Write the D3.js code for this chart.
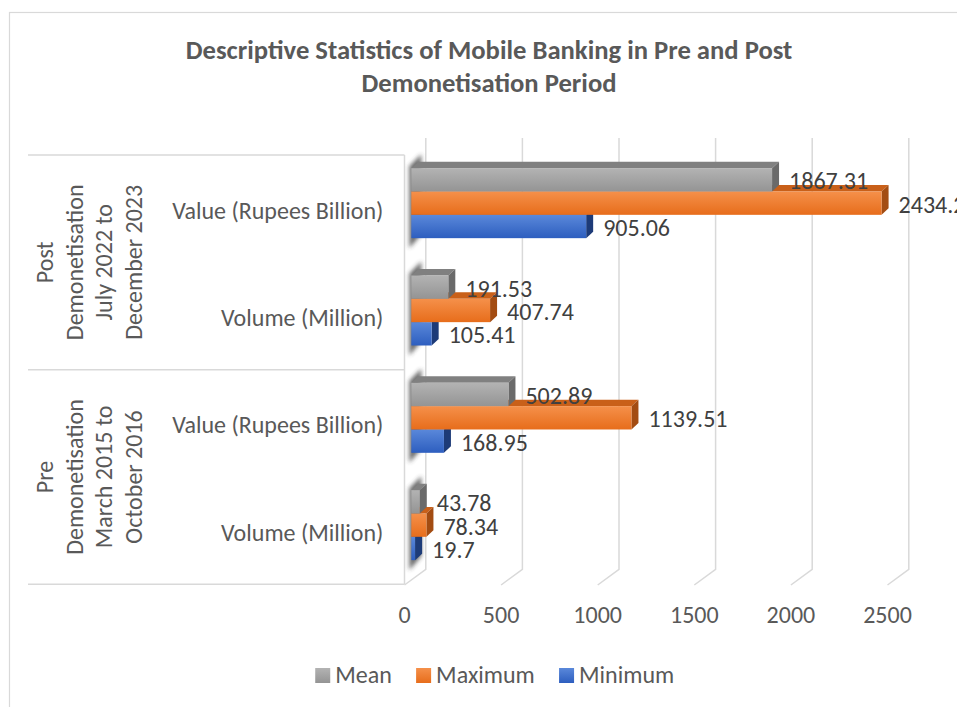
<!DOCTYPE html>
<html>
<head>
<meta charset="utf-8">
<script src="https://cdn.jsdelivr.net/npm/d3@7"></script>
<style>
  body { margin: 0; background: #fff; }
  text { font-family: Carlito, Calibri, Lato, sans-serif; fill: #595959; }
</style>
</head>
<body>
<div class="container"></div>
<script>
/* globals d3 */

// data
var categories = ['Post|Value (Rupees Billion)', 'Post|Volume (Million)', 'Pre|Value (Rupees Billion)', 'Pre|Volume (Million)']
var catLabels = ['Value (Rupees Billion)', 'Volume (Million)', 'Value (Rupees Billion)', 'Volume (Million)']
var groups = [
  { name: 'Post', lines: ['Post', 'Demonetisation', 'July 2022 to', 'December 2023'], from: 0, to: 1 },
  { name: 'Pre', lines: ['Pre', 'Demonetisation', 'March 2015 to', 'October 2016'], from: 2, to: 3 }
]
var seriesNames = ['Mean', 'Maximum', 'Minimum']
var meanValues = [1867.31, 191.53, 502.89, 43.78]
var maxValues = [2434.2, 407.74, 1139.51, 78.34]
var minValues = [905.06, 105.41, 168.95, 19.7]
var xTicks = [0, 500, 1000, 1500, 2000, 2500]

var colors = {
  Mean: { light: '#b3b3b3', dark: '#949494', top: '#808080', side: '#6a6a6a' },
  Maximum: { light: '#f5904a', dark: '#e76d1b', top: '#c96019', side: '#a34c12' },
  Minimum: { light: '#5a88da', dark: '#2d5ebf', top: '#2a4c8e', side: '#1d3b78' }
}

var width = 957
var height = 707

// oblique 3d geometry of the plot
var frontX = 404.5 // front edge of the floor at value 0
var wallDepth = [21.3, -15.7] // front -> back wall offset
var barX = 411.3 // front face of the bars at value 0
var barDepth = [7, -6.5]
var wallTop = 138
var wallBottom = 569.3

var svg = d3.select('.container')
            .append('svg')
            .attr('width', width)
            .attr('height', height)

var defs = svg.append('defs')
seriesNames.forEach(function (s) {
  var g = defs.append('linearGradient')
              .attr('id', 'grad-' + s)
              .attr('x1', 0).attr('y1', 0).attr('x2', 0).attr('y2', 1)
  g.append('stop').attr('offset', '0%').attr('stop-color', colors[s].light)
  g.append('stop').attr('offset', '100%').attr('stop-color', colors[s].dark)
})
defs.append('filter')
    .attr('id', 'blur')
    .attr('x', '-50%').attr('y', '-50%').attr('width', '200%').attr('height', '200%')
    .append('feGaussianBlur')
    .attr('stdDeviation', 2.2)

// chart border
svg.append('rect')
   .attr('x', 9.5)
   .attr('y', 12.5)
   .attr('width', width + 20)
   .attr('height', height + 20)
   .attr('fill', 'none')
   .attr('stroke', '#d9d9d9')
   .attr('stroke-width', 1.2)

// title
svg.append('text')
   .attr('x', 489)
   .attr('y', 59)
   .attr('text-anchor', 'middle')
   .style('font-size', '26.67px')
   .style('font-weight', 'bold')
   .text('Descriptive Statistics of Mobile Banking in Pre and Post')
svg.append('text')
   .attr('x', 489)
   .attr('y', 91.5)
   .attr('text-anchor', 'middle')
   .style('font-size', '26.67px')
   .style('font-weight', 'bold')
   .text('Demonetisation Period')

// scales
var xScale = d3.scaleLinear()
               .domain([0, 2500])
               .range([0, 483])

var yScale = d3.scaleBand()
               .domain(categories)
               .range([155, 584.3])

var seriesScale = d3.scaleBand()
                    .domain(seriesNames)
                    .range([-35, 35])

// back wall gridlines + floor ticks
var grid = svg.append('g').attr('class', 'grid')
xTicks.forEach(function (t) {
  var bx = frontX + wallDepth[0] + xScale(t)
  grid.append('path')
      .attr('d', 'M' + bx + ',' + wallTop + 'V' + wallBottom + 'L' + (bx - wallDepth[0]) + ',' + (wallBottom - wallDepth[1]))
      .attr('fill', 'none')
      .attr('stroke', '#d9d9d9')
      .attr('stroke-width', 1.5)
})

// category axis boxes
var boxLeft = 28
var boxMid = 169
grid.append('path')
    .attr('d', 'M' + frontX + ',' + yScale.range()[0] + 'V' + yScale.range()[1])
    .attr('stroke', '#d9d9d9')
    .attr('stroke-width', 1.5)
var lines = [yScale.range()[0], yScale(categories[2]), yScale.range()[1]]
lines.forEach(function (y) {
  grid.append('line')
      .attr('x1', boxLeft)
      .attr('x2', frontX)
      .attr('y1', y)
      .attr('y2', y)
      .attr('stroke', '#d9d9d9')
      .attr('stroke-width', 1.5)
})

// category labels
svg.selectAll('.catLabel')
   .data(categories)
   .enter()
   .append('text')
   .attr('class', 'catLabel')
   .attr('x', 383.3)
   .attr('y', function (d) { return yScale(d) + yScale.bandwidth() / 2 + 10 })
   .attr('text-anchor', 'end')
   .style('font-size', '24px')
   .text(function (d, i) { return catLabels[i] })

// group labels (rotated)
groups.forEach(function (g) {
  var yc = (yScale(categories[g.from]) + yScale(categories[g.to]) + yScale.bandwidth()) / 2
  var t = svg.append('text')
             .attr('transform', 'translate(0,' + yc + ') rotate(-90)')
             .attr('text-anchor', 'middle')
             .style('font-size', '24px')
  g.lines.forEach(function (line, i) {
    t.append('tspan')
     .attr('x', 0)
     .attr('y', 53.3 + i * 29.45)
     .text(line)
  })
})

// x tick labels
svg.selectAll('.tickLabel')
   .data(xTicks)
   .enter()
   .append('text')
   .attr('class', 'tickLabel')
   .attr('x', function (d) { return frontX + xScale(d) })
   .attr('y', 623.3)
   .attr('text-anchor', 'middle')
   .style('font-size', '24px')
   .text(function (d) { return d })

// bars
var valuesBySeries = { Mean: meanValues, Maximum: maxValues, Minimum: minValues }
var h = seriesScale.bandwidth()
var dx = barDepth[0]
var dy = barDepth[1]
var bars = svg.append('g').attr('class', 'bars')

categories.forEach(function (c, ci) {
  var yc = yScale(c) + yScale.bandwidth() / 2 - 5.5
  var gTop = yc + seriesScale(seriesNames[0])
  var gBot = yc + seriesScale(seriesNames[2]) + h

  // soft shading on the side wall
  bars.append('polygon')
      .attr('points', [[barX - 2, gTop - 2], [barX + 10, gTop - 14], [barX + 10, gBot - 4], [barX - 2, gBot + 10]].join(' '))
      .attr('fill', '#3a3a3a')
      .attr('opacity', 0.75)
      .attr('filter', 'url(#blur)')

  // draw bottom bar first so the upper ones cover it
  seriesNames.slice().reverse().forEach(function (s) {
    var v = valuesBySeries[s][ci]
    var y = yc + seriesScale(s)
    var w = xScale(v)
    var x0 = barX
    bars.append('polygon')
        .attr('points', [[x0, y], [x0 + dx, y + dy], [x0 + w + dx, y + dy], [x0 + w, y]].join(' '))
        .attr('fill', colors[s].top)
    bars.append('polygon')
        .attr('points', [[x0 + w, y], [x0 + w + dx, y + dy], [x0 + w + dx, y + h + dy], [x0 + w, y + h]].join(' '))
        .attr('fill', colors[s].side)
    bars.append('rect')
        .attr('x', x0)
        .attr('y', y)
        .attr('width', w)
        .attr('height', h)
        .attr('fill', 'url(#grad-' + s + ')')
  })
})

// data labels
categories.forEach(function (c, ci) {
  var yc = yScale(c) + yScale.bandwidth() / 2 - 5.5
  seriesNames.forEach(function (s) {
    var v = valuesBySeries[s][ci]
    svg.append('text')
       .attr('class', 'dataLabel')
       .attr('x', barX + xScale(v) + 17)
       .attr('y', yc + seriesScale(s) + h - 2)
       .style('font-size', '24px')
       .style('fill', '#404040')
       .text(v)
  })
})

// legend
var legend = svg.append('g').attr('class', 'legend')
var lx = 0
seriesNames.forEach(function (s) {
  var item = legend.append('g').attr('transform', 'translate(' + lx + ',0)')
  item.append('rect')
      .attr('x', 0)
      .attr('y', 668)
      .attr('width', 15)
      .attr('height', 15)
      .attr('fill', 'url(#grad-' + s + ')')
  var t = item.append('text')
              .attr('x', 20)
              .attr('y', 682.7)
              .style('font-size', '24px')
              .text(s)
  lx += 20 + t.node().getComputedTextLength() + 24.3
})
var legendWidth = lx - 24.3
legend.attr('transform', 'translate(' + (494.7 - legendWidth / 2) + ',0)')
</script>
</body>
</html>
